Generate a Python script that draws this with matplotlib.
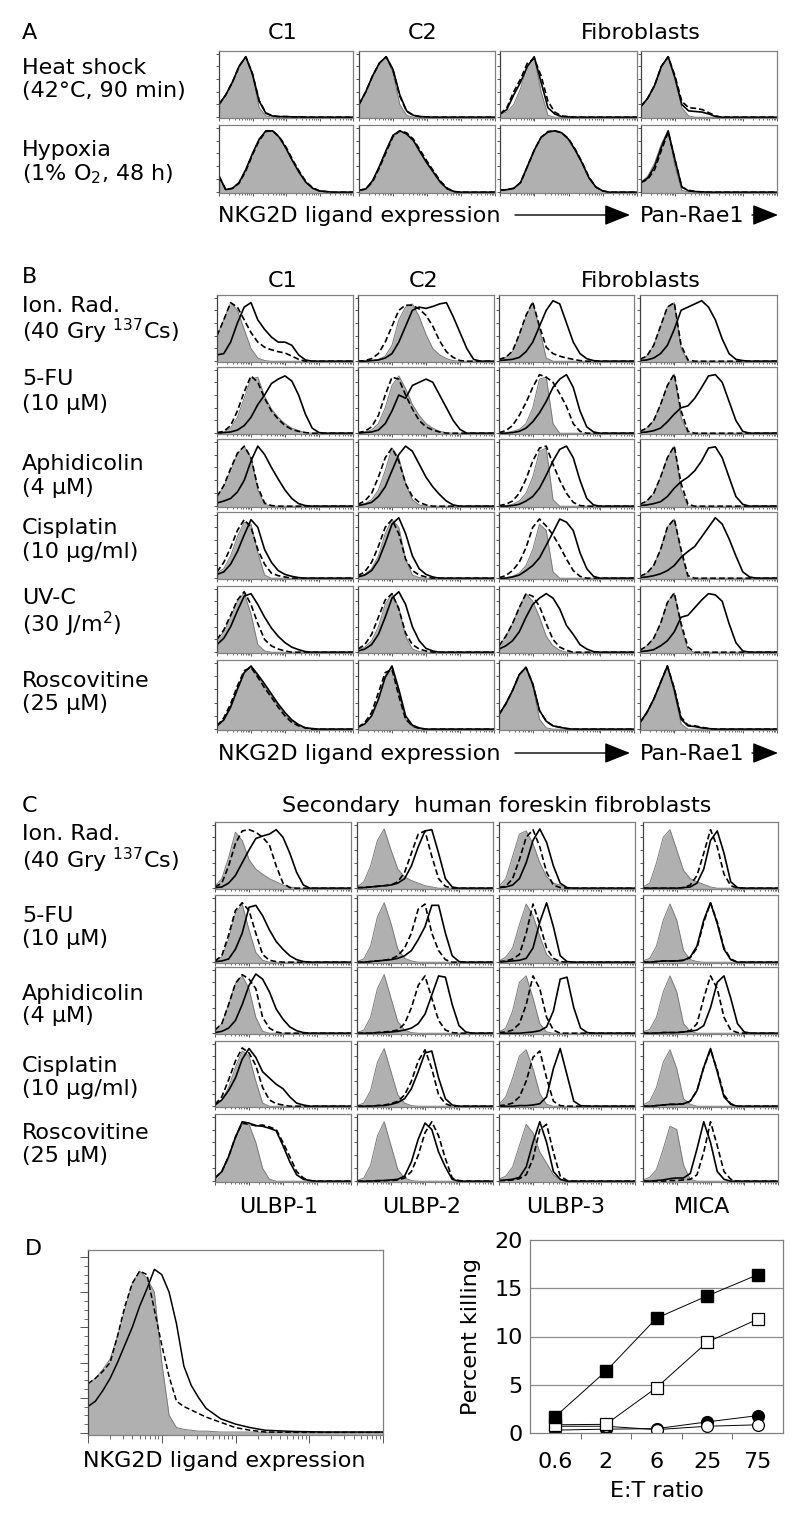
import numpy as np
import matplotlib
matplotlib.use("Agg")
import matplotlib.pyplot as plt
from matplotlib.patches import FancyArrowPatch

W, H = 800, 1514

# ---- histogram data: heights (% of panel) on an x grid 0, 0.05 ... 1.0
# each panel = (filled/isotype, solid, dashed); trailing values are zero
A_heat = [
    ([20, 35, 55, 80, 95, 65, 15, 2], [20, 35, 55, 80, 95, 68, 25, 6, 2, 1, 1, 0.5, 0.5], [20, 35, 55, 80, 95, 68, 26, 7, 2, 1, 1, 0.5, 0.5]),
    ([20, 40, 65, 85, 95, 70, 20, 3], [20, 40, 65, 85, 95, 75, 35, 10, 3, 1, 0.5], [20, 40, 65, 85, 95, 74, 33, 9, 3, 1, 0.5]),
    ([5, 8, 20, 45, 80, 95, 40, 3], [5, 12, 35, 55, 80, 95, 55, 15, 5, 1, 0.5], [5, 15, 40, 60, 85, 92, 65, 25, 8, 2, 1]),
    ([17, 30, 50, 80, 95, 60, 15, 2], [17, 30, 50, 80, 95, 62, 20, 10, 9, 8, 5, 1], [17, 30, 50, 80, 95, 65, 25, 15, 14, 12, 7, 2]),
]
A_hypoxia = [
    ([25, 4, 6, 15, 35, 60, 82, 95, 95, 85, 68, 48, 30, 15, 6, 2, 1], [25, 4, 6, 15, 35, 60, 82, 95, 95, 85, 68, 48, 30, 15, 6, 2, 1], [25, 4, 6, 14, 33, 58, 80, 94, 95, 86, 70, 50, 32, 16, 7, 2, 1]),
    ([3, 5, 18, 40, 65, 88, 95, 90, 80, 62, 45, 30, 15, 5, 1], [3, 5, 18, 40, 65, 88, 95, 90, 80, 62, 45, 30, 15, 5, 1], [3, 5, 16, 38, 62, 86, 95, 92, 82, 65, 48, 32, 17, 6, 1]),
    ([3, 4, 6, 15, 40, 65, 85, 93, 95, 92, 82, 65, 45, 22, 8, 2], [3, 4, 6, 15, 40, 65, 85, 93, 95, 92, 82, 65, 45, 22, 8, 2], [3, 4, 6, 15, 40, 65, 85, 94, 95, 92, 83, 66, 46, 23, 8, 2]),
    ([15, 25, 45, 75, 95, 40, 3], [15, 22, 40, 70, 95, 50, 8, 2, 1, 0.5], [15, 20, 35, 65, 93, 50, 8, 3, 1, 0.5]),
]

B_ionrad = [
    ([40, 65, 92, 80, 50, 20, 5, 1], [10, 12, 30, 60, 85, 92, 65, 50, 38, 30, 30, 25, 10, 2], [40, 65, 92, 85, 65, 45, 30, 22, 18, 15, 13, 8, 3]),
    ([0, 0, 1, 3, 8, 25, 65, 85, 90, 70, 42, 20, 10, 4, 1], [0, 0, 1, 2, 5, 12, 30, 55, 80, 85, 83, 86, 90, 92, 70, 45, 20, 3], [0, 1, 4, 12, 30, 55, 80, 88, 88, 82, 72, 55, 32, 15, 6, 1]),
    ([3, 6, 15, 40, 70, 93, 50, 5], [1, 2, 3, 6, 15, 30, 55, 80, 95, 90, 60, 30, 12, 4, 1], [3, 6, 16, 42, 72, 93, 55, 22, 12, 8, 5, 3, 1]),
    ([3, 8, 25, 55, 85, 92, 20], [1, 2, 5, 12, 25, 50, 80, 85, 90, 95, 85, 65, 35, 12, 3, 1], [3, 8, 25, 55, 85, 92, 25, 2]),
]
B_5fu = [
    ([1, 2, 8, 25, 55, 85, 88, 58, 38, 25, 15, 8, 4, 1], [0, 1, 2, 5, 12, 25, 45, 60, 78, 85, 90, 82, 60, 30, 8, 1], [1, 3, 12, 35, 65, 90, 80, 55, 35, 22, 12, 6, 3, 1]),
    ([1, 2, 5, 15, 40, 75, 90, 70, 45, 28, 15, 8, 3, 1], [0, 1, 2, 5, 15, 35, 60, 55, 75, 80, 85, 80, 60, 40, 20, 6], [1, 3, 10, 28, 60, 88, 85, 60, 38, 20, 10, 5, 2]),
    ([0, 1, 3, 6, 15, 40, 85, 88, 15], [0, 0, 1, 3, 8, 18, 32, 50, 72, 85, 92, 72, 35, 10, 2], [1, 4, 12, 28, 48, 72, 92, 88, 80, 62, 42, 15, 3]),
    ([3, 8, 20, 45, 75, 93, 25], [1, 2, 4, 8, 18, 30, 40, 43, 55, 72, 90, 92, 80, 50, 20, 3], [3, 8, 20, 45, 75, 93, 35, 3]),
]
B_aphid = [
    ([15, 30, 55, 80, 93, 75, 25, 3], [5, 8, 12, 22, 40, 70, 93, 80, 60, 42, 25, 12, 4, 1], [15, 32, 58, 82, 93, 75, 30, 5, 1]),
    ([2, 4, 10, 25, 55, 90, 75, 35, 10, 2], [1, 3, 6, 15, 30, 55, 80, 93, 85, 65, 45, 30, 18, 8, 2], [3, 8, 20, 45, 75, 90, 70, 35, 15, 6, 2]),
    ([0, 1, 3, 8, 20, 45, 85, 90, 10], [0, 0, 1, 3, 8, 15, 28, 48, 70, 88, 93, 75, 40, 12, 2], [1, 3, 8, 20, 42, 70, 90, 93, 65, 40, 20, 6, 1]),
    ([3, 8, 20, 45, 75, 93, 25], [1, 2, 4, 7, 15, 28, 38, 45, 55, 70, 90, 92, 75, 45, 15, 3], [3, 8, 20, 45, 75, 93, 35, 3]),
]
B_cispl = [
    ([8, 15, 35, 65, 88, 85, 40, 5], [6, 10, 22, 42, 68, 92, 80, 45, 25, 12, 6, 3, 1], [10, 25, 48, 75, 92, 80, 45, 22, 8, 4, 2]),
    ([3, 6, 15, 35, 70, 92, 80, 30, 5, 1], [2, 5, 12, 28, 55, 85, 95, 70, 35, 15, 6, 2], [4, 10, 25, 50, 80, 92, 70, 30, 12, 5, 2]),
    ([0, 1, 3, 8, 20, 45, 85, 75, 10], [0, 0, 2, 5, 12, 20, 32, 52, 72, 93, 88, 75, 40, 15, 3], [1, 4, 12, 25, 48, 80, 93, 82, 68, 50, 30, 12, 3]),
    ([3, 8, 20, 45, 80, 93, 40], [1, 2, 4, 7, 12, 20, 33, 42, 50, 65, 80, 95, 85, 62, 35, 10, 2], [3, 8, 20, 45, 80, 93, 45, 4]),
]
B_uvc = [
    ([20, 32, 55, 80, 93, 60, 12, 2], [12, 22, 40, 65, 88, 92, 75, 55, 38, 25, 15, 8, 4, 1], [20, 35, 58, 82, 95, 75, 45, 20, 10, 5, 2]),
    ([4, 8, 18, 40, 75, 92, 70, 25, 5, 1], [2, 5, 12, 28, 55, 85, 95, 75, 40, 18, 6, 2], [5, 12, 28, 55, 82, 92, 68, 30, 12, 5, 2]),
    ([10, 25, 45, 70, 92, 80, 55, 25, 10, 3], [5, 10, 18, 32, 55, 75, 85, 92, 85, 68, 42, 28, 12, 5, 1], [10, 25, 45, 70, 92, 88, 72, 45, 20, 8, 3]),
    ([3, 10, 22, 45, 78, 93, 40, 3], [1, 2, 4, 10, 18, 32, 55, 58, 70, 82, 92, 90, 80, 45, 15, 2], [3, 10, 22, 45, 78, 93, 45, 8]),
]
B_rosco = [
    ([5, 15, 35, 62, 85, 93, 80, 65, 50, 35, 22, 12, 6, 2, 1], [5, 14, 33, 60, 85, 95, 82, 68, 53, 38, 25, 14, 7, 2, 1], [5, 17, 38, 65, 88, 93, 78, 62, 48, 33, 20, 10, 5, 2]),
    ([3, 8, 20, 45, 80, 93, 55, 15, 4, 1], [3, 8, 20, 45, 78, 95, 60, 20, 6, 2], [3, 10, 25, 55, 85, 90, 50, 15, 5, 1]),
    ([22, 38, 58, 82, 93, 65, 15, 2], [22, 38, 58, 82, 93, 68, 28, 12, 5, 3, 1], [22, 38, 58, 82, 93, 68, 28, 12, 5, 3, 1]),
    ([10, 25, 45, 70, 95, 55, 8], [10, 25, 45, 70, 95, 60, 15, 5, 4, 2, 1], [10, 25, 45, 70, 95, 62, 18, 6, 5, 3, 1]),
]

C_ionrad = [
    ([3, 15, 48, 88, 75, 45, 30, 22, 15, 10, 5, 2], [1, 2, 8, 20, 40, 60, 78, 82, 85, 92, 80, 55, 25, 5], [2, 8, 35, 70, 90, 92, 88, 80, 68, 35, 8, 1]),
    ([2, 10, 35, 75, 93, 60, 30, 18, 12, 8, 4, 2], [1, 1, 2, 3, 4, 5, 8, 15, 35, 65, 90, 92, 55, 15, 2], [1, 1, 2, 3, 4, 5, 10, 25, 55, 85, 90, 50, 15, 3]),
    ([3, 15, 50, 85, 90, 70, 40, 18, 8, 5, 1], [1, 2, 5, 15, 40, 75, 93, 72, 35, 8, 1], [1, 3, 15, 45, 80, 92, 65, 25, 5, 1]),
    ([2, 8, 40, 80, 92, 60, 28, 15, 10, 6, 2], [0, 0, 0, 0, 0, 0, 1, 2, 8, 30, 75, 90, 55, 10, 1], [0, 0, 0, 0, 0, 0, 1, 5, 20, 55, 92, 65, 22, 4]),
]
C_5fu = [
    ([2, 8, 35, 75, 90, 50, 15, 3], [1, 2, 5, 20, 45, 85, 88, 72, 50, 32, 20, 10, 4, 1], [2, 10, 42, 80, 92, 80, 45, 12, 3, 1]),
    ([1, 5, 25, 70, 92, 60, 20, 6, 2], [0, 0, 1, 2, 3, 4, 6, 10, 18, 35, 55, 88, 88, 45, 10, 1], [0, 0, 1, 2, 3, 5, 10, 22, 45, 82, 90, 45, 18, 4]),
    ([2, 8, 22, 58, 90, 72, 40, 12, 2], [0, 1, 2, 3, 6, 22, 62, 92, 55, 10, 1], [1, 2, 5, 12, 45, 90, 58, 22, 6, 1]),
    ([2, 6, 25, 65, 90, 65, 18, 4, 1], [0, 0, 1, 2, 2, 2, 3, 8, 25, 65, 92, 60, 20, 4], [0, 0, 1, 2, 2, 2, 3, 7, 22, 62, 92, 62, 22, 5]),
]
C_aphid = [
    ([5, 15, 45, 78, 90, 70, 25, 3], [1, 3, 8, 20, 45, 75, 93, 85, 65, 38, 22, 10, 4, 1], [5, 15, 45, 78, 92, 85, 70, 25, 8, 2]),
    ([1, 5, 25, 70, 92, 55, 18, 5, 1], [0, 0, 0, 1, 1, 2, 3, 5, 8, 15, 30, 60, 90, 88, 45, 12, 2], [0, 0, 0, 1, 2, 3, 5, 15, 40, 75, 90, 55, 20, 5, 1]),
    ([2, 8, 35, 80, 90, 55, 15, 2], [0, 0, 0, 0, 1, 2, 4, 10, 35, 85, 88, 40, 8, 1], [1, 2, 5, 15, 45, 90, 70, 25, 5]),
    ([2, 6, 25, 65, 90, 65, 15, 3], [0, 0, 0, 1, 1, 1, 2, 3, 5, 12, 40, 80, 90, 55, 15, 2], [0, 0, 0, 1, 1, 1, 2, 4, 15, 55, 90, 70, 25, 5, 1]),
]
C_cispl = [
    ([3, 10, 30, 62, 88, 80, 40, 5], [2, 10, 25, 45, 75, 92, 78, 55, 45, 35, 28, 15, 5, 2], [3, 15, 42, 72, 93, 85, 65, 30, 10, 4, 2]),
    ([1, 5, 25, 70, 92, 55, 18, 5, 1], [0, 0, 0, 1, 1, 3, 6, 12, 28, 55, 85, 88, 45, 12, 2], [0, 0, 0, 1, 2, 4, 8, 18, 40, 72, 90, 60, 18, 4]),
    ([3, 15, 45, 80, 90, 60, 20, 3], [0, 0, 0, 1, 1, 2, 4, 15, 60, 92, 50, 8, 1], [1, 2, 5, 15, 40, 78, 88, 45, 8, 1]),
    ([2, 8, 30, 70, 90, 60, 12, 3], [0, 0, 1, 2, 3, 3, 4, 8, 25, 62, 92, 55, 15, 3], [0, 0, 1, 2, 3, 3, 4, 8, 25, 62, 90, 58, 18, 4]),
]
C_rosco = [
    ([5, 15, 38, 65, 88, 88, 60, 20, 3], [5, 15, 38, 68, 92, 90, 86, 85, 82, 78, 55, 30, 10, 3, 1], [5, 15, 38, 68, 90, 88, 86, 87, 84, 80, 60, 38, 15, 5, 1]),
    ([1, 5, 25, 70, 92, 55, 18, 5, 1], [0, 0, 0, 1, 1, 2, 3, 8, 30, 65, 90, 80, 45, 22, 3], [0, 0, 0, 0, 1, 1, 2, 5, 15, 40, 75, 92, 70, 35, 5, 1]),
    ([3, 8, 22, 55, 88, 75, 45, 28, 10, 2], [1, 2, 3, 6, 22, 60, 92, 60, 15, 3], [1, 1, 2, 4, 10, 35, 80, 88, 45, 8, 1]),
    ([2, 6, 18, 50, 85, 80, 25, 3], [0, 0, 1, 2, 4, 5, 5, 12, 50, 92, 60, 15, 3], [0, 0, 0, 0, 1, 1, 2, 3, 10, 45, 92, 55, 15, 3]),
]

# panel D histogram (own x grid)
D_x = [0, .025, .05, .075, .1, .125, .15, .175, .2, .225, .25, .275, .3, .325, .35, .375, .4, .45, .5, .55, .6, .7, .8, 1.0]
D_filled = [28, 31, 36, 42, 55, 70, 85, 92, 88, 80, 40, 10, 3, 2, 1.5, 1, 1, 0.5, 0.5, 0.5, 0.3, 0.3, 0.3, 0.3]
D_dashed = [28, 31, 35, 40, 55, 72, 85, 92, 90, 70, 50, 32, 18, 15, 13, 11, 9, 6, 3, 1.5, 0.5, 0.3, 0.3, 0.3]
D_solid = [15, 18, 24, 31, 40, 50, 60, 72, 82, 93, 90, 80, 62, 38, 27, 20, 14, 8, 5, 3, 1.5, 0.8, 0.5, 0.5]

# panel D killing assay
et_labels = ["0.6", "2", "6", "25", "75"]
kill_filled_sq = [1.7, 6.4, 11.9, 14.2, 16.4]
kill_open_sq = [0.85, 0.9, 4.7, 9.4, 11.8]
kill_filled_circ = [0.3, 0.4, 0.45, 1.15, 1.8]
kill_open_circ = [0.7, 0.7, 0.35, 0.7, 0.85]

FILL = "#b0b0b0"
FRAME = "#808080"
FS = 16

xs = np.linspace(0, 1, 21)
log_minor = [(d + np.log10(m)) / 4 for d in range(4) for m in range(2, 10)]

fig = plt.figure(figsize=(W / 100, H / 100), dpi=100)


def fx(x):
    return x / W


def fy(y):
    return 1 - y / H


def add_ax(x0, x1, y0, y1):
    return fig.add_axes([fx(x0), fy(y1), (x1 - x0) / W, (y1 - y0) / H])


def pad(v, n=21):
    return list(v) + [0] * (n - len(v))


def txt(x, y, s, ha="left", **kw):
    fig.text(fx(x), fy(y), s, ha=ha, va="baseline", fontsize=FS, **kw)


def arrow(x0, x1, y):
    fig.add_artist(FancyArrowPatch((fx(x0), fy(y)), (fx(x1), fy(y)), transform=fig.transFigure,
                                   arrowstyle="-|>,head_length=0.8,head_width=0.32", mutation_scale=20,
                                   lw=1, color="k", shrinkA=0, shrinkB=0))


def style_hist(ax, big=False):
    ax.set_xlim(0, 1)
    ax.set_ylim(-1.2, 104)
    for s in ax.spines.values():
        s.set_color(FRAME)
        s.set_linewidth(0.9)
    ax.spines["left"].set_color("#404040")
    ax.set_xticks([0, .25, .5, .75, 1])
    ax.set_xticks(log_minor, minor=True)
    ax.set_yticks(np.arange(0, 101, 20))
    ax.set_yticks(np.arange(0, 101, 5), minor=True)
    L = 6 if big else 2.5
    ax.tick_params(which="major", direction="out", length=L, width=0.7, colors="#555555",
                   labelleft=False, labelbottom=False)
    ax.tick_params(which="minor", direction="out", length=L * 0.5, width=0.6, colors="#555555")
    if not big:
        ax.tick_params(axis="y", which="minor", length=0)


def draw_hist(ax, x, filled, solid, dashed, n=21, lw=1.2):
    f = pad(filled, n)
    ax.fill_between(x, f, -2, color=FILL, lw=0)
    ax.plot(x, f, color="#7a7a7a", lw=0.7)
    ax.plot(x, pad(dashed, n), color="k", lw=lw, ls=(0, (3.5, 1.8)))
    ax.plot(x, pad(solid, n), color="k", lw=lw)


def grid_block(rows, rows_y, cols_x):
    for row, (y0, y1) in zip(rows, rows_y):
        for panel, (x0, x1) in zip(row, cols_x):
            ax = add_ax(x0, x1, y0, y1)
            draw_hist(ax, xs, *panel)
            style_hist(ax)


# ---------- A ----------
grid_block([A_heat, A_hypoxia], [(51, 118), (125, 193)],
           [(219, 353), (359, 495), (500, 637), (641, 777)])
txt(22, 39, "A")
txt(283, 39, "C1", ha="center")
txt(423, 39, "C2", ha="center")
txt(641, 39, "Fibroblasts", ha="center")
txt(22, 74, "Heat shock")
txt(22, 97, "(42°C, 90 min)")
txt(22, 156, "Hypoxia")
txt(22, 180, "(1% O$_2$, 48 h)")
txt(218, 222, "NKG2D ligand expression")
arrow(515, 630, 215)
txt(640, 222, "Pan-Rae1")
arrow(752, 778, 215)

# ---------- B ----------
grid_block([B_ionrad, B_5fu, B_aphid, B_cispl, B_uvc, B_rosco],
           [(295, 362), (367, 434), (439, 507), (512, 579), (586, 653), (660, 730)],
           [(217, 353), (358, 494), (499, 634), (640, 777)])
txt(22, 283, "B")
txt(283, 287, "C1", ha="center")
txt(424, 287, "C2", ha="center")
txt(641, 287, "Fibroblasts", ha="center")
b_labels = [("Ion. Rad.", "(40 Gry $^{137}$Cs)", 312, 339),
            ("5-FU", "(10 μM)", 385, 410),
            ("Aphidicolin", "(4 μM)", 470, 494),
            ("Cisplatin", "(10 μg/ml)", 534, 558),
            ("UV-C", "(30 J/m$^2$)", 604, 632),
            ("Roscovitine", "(25 μM)", 687, 710)]
for l1, l2, y1, y2 in b_labels:
    txt(22, y1, l1)
    txt(22, y2, l2)
txt(218, 760, "NKG2D ligand expression")
arrow(515, 630, 753)
txt(640, 760, "Pan-Rae1")
arrow(752, 778, 753)

# ---------- C ----------
grid_block([C_ionrad, C_5fu, C_aphid, C_cispl, C_rosco],
           [(822, 889), (895, 963), (967, 1034), (1041, 1107), (1114, 1182)],
           [(215, 351), (357, 493), (499, 635), (643, 778)])
txt(22, 812, "C")
txt(282, 812, "Secondary  human foreskin fibroblasts")
c_labels = [("Ion. Rad.", "(40 Gry $^{137}$Cs)", 840, 868),
            ("5-FU", "(10 μM)", 922, 945),
            ("Aphidicolin", "(4 μM)", 1000, 1022),
            ("Cisplatin", "(10 μg/ml)", 1072, 1095),
            ("Roscovitine", "(25 μM)", 1139, 1162)]
for l1, l2, y1, y2 in c_labels:
    txt(22, y1, l1)
    txt(22, y2, l2)
for name, cx in zip(["ULBP-1", "ULBP-2", "ULBP-3", "MICA"], [279, 422, 566, 702]):
    txt(cx, 1213, name, ha="center")

# ---------- D ----------
txt(25, 1255, "D")
axd = add_ax(88, 383, 1250, 1435)
draw_hist(axd, D_x, D_filled, D_solid, D_dashed, n=len(D_x), lw=1.1)
style_hist(axd, big=True)
txt(224, 1467, "NKG2D ligand expression", ha="center")

axk = add_ax(530, 783, 1240, 1433)
pos = np.arange(len(et_labels))
axk.plot(pos, kill_filled_circ, color="k", lw=0.7, marker="o", ms=8.5, mfc="k", mec="k")
axk.plot(pos, kill_open_circ, color="k", lw=0.7, marker="o", ms=8.5, mfc="white", mec="k", mew=0.9)
axk.plot(pos, kill_open_sq, color="k", lw=0.7, marker="s", ms=9, mfc="white", mec="k", mew=0.9)
axk.plot(pos, kill_filled_sq, color="k", lw=0.7, marker="s", ms=9, mfc="k", mec="k")
axk.set_xlim(-0.5, 4.5)
axk.set_ylim(0, 20)
axk.set_yticks([0, 5, 10, 15, 20])
axk.set_xticks(pos)
axk.set_xticklabels(et_labels)
axk.set_xticks(np.arange(0.5, 4, 1), minor=True)
for yv in [5, 10, 15]:
    axk.axhline(yv, color="#8c8c8c", lw=0.9, zorder=0)
for s in axk.spines.values():
    s.set_color(FRAME)
    s.set_linewidth(0.9)
axk.tick_params(axis="y", which="major", length=0, labelsize=FS, pad=5)
axk.tick_params(axis="x", which="major", length=0, labelsize=FS, pad=14)
axk.tick_params(axis="x", which="minor", length=4, direction="out", color="#555555")
axk.set_ylabel("Percent killing", fontsize=FS, labelpad=10)
axk.set_xlabel("E:T ratio", fontsize=FS, labelpad=6)

fig.savefig("out.png", dpi=100)
